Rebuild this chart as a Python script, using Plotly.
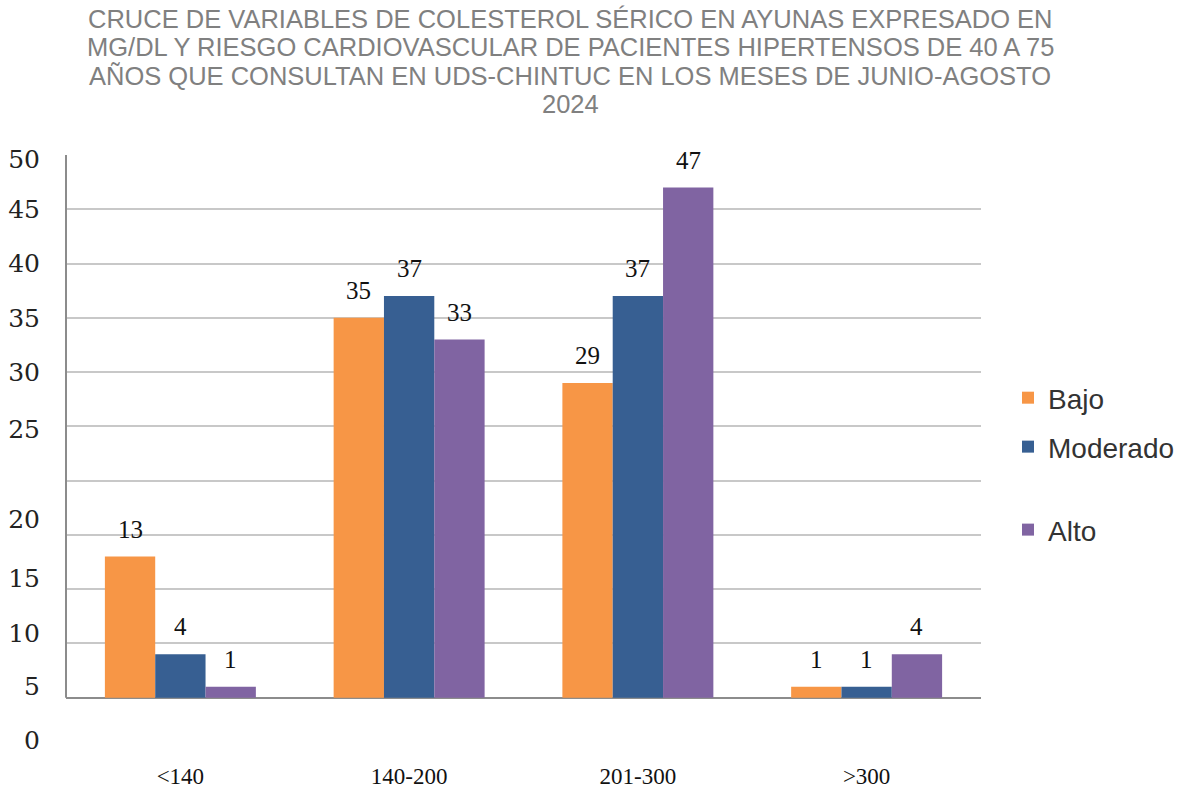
import plotly.graph_objects as go

# ---- data ----
categories = ["<140", "140-200", "201-300", ">300"]
bajo = [13, 35, 29, 1]
moderado = [4, 37, 37, 1]
alto = [1, 33, 47, 4]
series_names = ["Bajo", "Moderado", "Alto"]
series_values = [bajo, moderado, alto]
colors = ["#F79646", "#375F92", "#8064A2"]

# y tick labels as printed in the original (they are offset from the gridlines)
ytick_text = ["0", "5", "10", "15", "20", "25", "30", "35", "40", "45", "50"]
ytick_pos = [-3.9, 1.1, 5.9, 11.0, 16.4, 24.7, 30, 35, 40, 45, 49.6]
grid_vals = [0, 5, 10, 15, 20, 25, 30, 35, 40, 45, 50]

title_lines = [
    "CRUCE DE VARIABLES DE COLESTEROL SÉRICO EN AYUNAS EXPRESADO EN",
    "MG/DL Y RIESGO CARDIOVASCULAR DE PACIENTES HIPERTENSOS DE 40 A 75",
    "AÑOS QUE CONSULTAN EN UDS-CHINTUC EN LOS MESES DE JUNIO-AGOSTO",
    "2024",
]

W, H = 1185, 793
ML, MR, MT, MB = 66, 204, 155, 41
BARGAP = 0.34
plot_w = W - ML - MR
plot_h = H - MT - MB
bar_px = plot_w / len(categories) * (1 - BARGAP) / len(series_names)

legend_ids = ["legend", "legend2", "legend3"]
legend_y = [0.593, 0.511, 0.372]

fig = go.Figure()
for i, (name, vals, col) in enumerate(zip(series_names, series_values, colors)):
    fig.add_trace(go.Bar(
        x=categories, y=vals, name=name,
        marker=dict(color=col, line=dict(width=0)),
        legend=legend_ids[i],
    ))
    for c, v in zip(categories, vals):
        fig.add_annotation(
            x=c, y=v, xref="x", yref="y", text=str(v), showarrow=False,
            xshift=(i - 1) * bar_px, yshift=12, yanchor="bottom",
            font=dict(family="Liberation Serif", size=25, color="#111111"),
        )

# title, one annotation per line
TITLE_TOP = 19      # centre of first line, px from top
TITLE_STEP = 28.3   # line step, px
for k, line in enumerate(title_lines):
    fig.add_annotation(
        text=line, showarrow=False, xref="paper", yref="paper",
        x=(570 - ML) / plot_w, xanchor="center",
        y=1 + (MT - (TITLE_TOP + k * TITLE_STEP)) / plot_h, yanchor="middle",
        font=dict(family="Liberation Sans", size=25.5, color="#808080"),
    )

# invisible trace to carry the (offset) y tick labels on an overlay axis
fig.add_trace(go.Scatter(x=[categories[0]], y=[None], yaxis="y2", showlegend=False,
                         hoverinfo="skip"))

fig.add_shape(type="line", xref="paper", x0=0, x1=0, yref="y", y0=0, y1=50,
              line=dict(color="#8C8C8C", width=2), layer="above")

legend_common = dict(
    xanchor="left", yanchor="middle", x=(1008 - ML) / plot_w,
    font=dict(family="Liberation Sans", size=28, color="#333333"),
    bgcolor="rgba(0,0,0,0)", itemwidth=30,
)
layout_legends = {}
for lid, ly in zip(legend_ids, legend_y):
    layout_legends[lid] = dict(legend_common, y=ly)

fig.update_layout(
    width=W, height=H,
    margin=dict(l=ML, r=MR, t=MT, b=MB, autoexpand=False),
    paper_bgcolor="white", plot_bgcolor="white",
    barmode="group", bargap=BARGAP, bargroupgap=0,
    xaxis=dict(
        showgrid=False, showline=False, zeroline=False, ticks="",
        tickfont=dict(family="Liberation Serif", size=23, color="#111111"),
        ticklabelstandoff=8, automargin=False,
    ),
    yaxis=dict(
        range=[-5, 50], tickvals=grid_vals, showticklabels=False,
        showgrid=True, gridcolor="#C8C8C8", gridwidth=2,
        zeroline=True, zerolinecolor="#8C8C8C", zerolinewidth=2,
        showline=False, ticks="", automargin=False,
    ),
    yaxis2=dict(
        overlaying="y", side="left", anchor="x", range=[-5, 50],
        tickvals=ytick_pos, ticktext=ytick_text, showgrid=False,
        zeroline=False, showline=False, ticks="",
        tickfont=dict(family="DejaVu Serif", size=25, color="#222222"),
        ticklabelstandoff=25, automargin=False,
    ),
    **layout_legends,
)

fig.write_html("out.html", config={"displayModeBar": False},
               post_script="document.body.style.margin='0';")
